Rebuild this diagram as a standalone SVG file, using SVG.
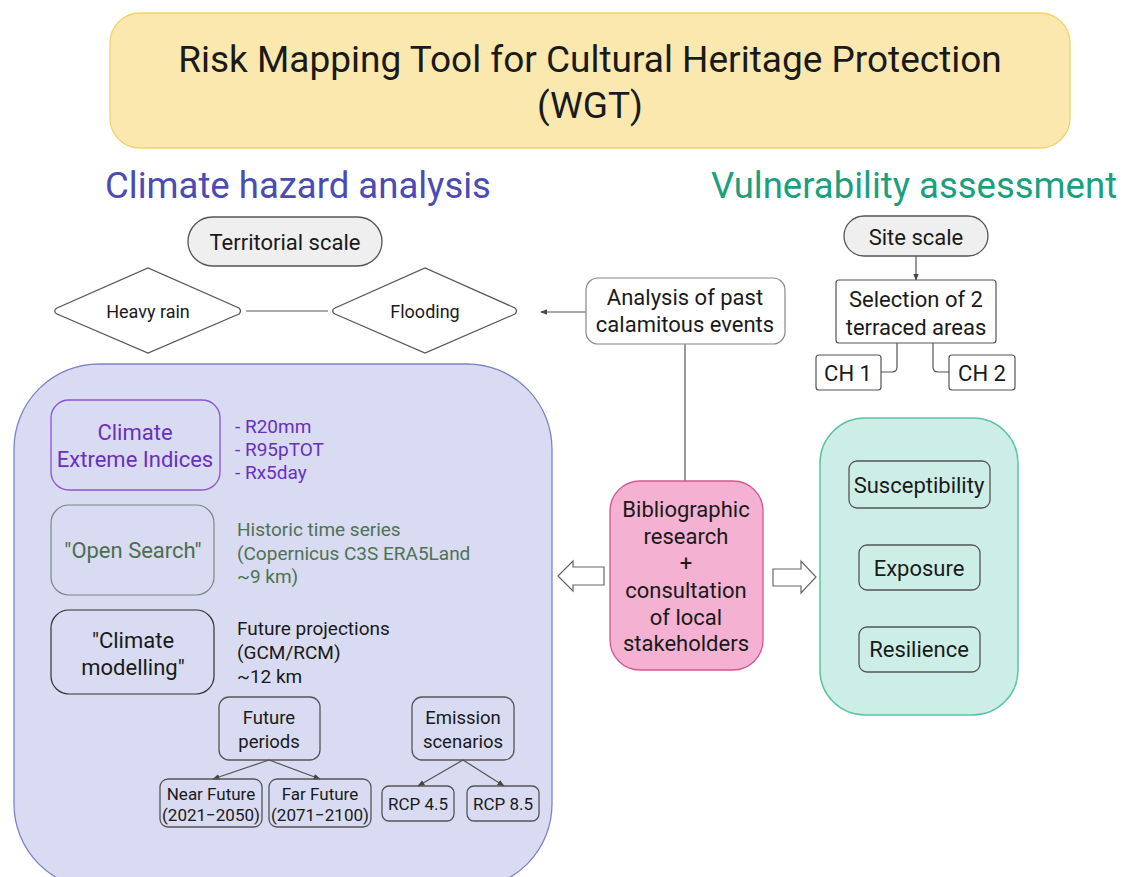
<svg xmlns="http://www.w3.org/2000/svg" width="1123" height="877" viewBox="0 0 1123 877">
<defs>
<marker id="ah" viewBox="0 0 10 10" refX="9" refY="5" markerWidth="6" markerHeight="6" orient="auto-start-reverse"><path d="M0,1 L10,5 L0,9 z" fill="#444"/></marker>
</defs>
<style>
text{font-family:Roboto,"Liberation Sans",sans-serif;fill:#1a1a1a;text-anchor:middle}
.l{text-anchor:start}
.bx{fill:none;stroke:#555;stroke-width:1.3}
.ln{fill:none;stroke:#555;stroke-width:1.2}
</style>
<rect x="0" y="0" width="1123" height="877" fill="#ffffff"/>

<g id="title">
<rect x="110" y="13" width="960" height="135" rx="30" fill="#fbe8ae" stroke="#f0d36a" stroke-width="1.3"/>
<text x="590" y="72" font-size="37">Risk Mapping Tool for Cultural Heritage Protection</text>
<text x="590" y="118" font-size="37">(WGT)</text>
</g>

<g id="heading-hazard"><text x="298" y="198" font-size="36.5" style="fill:#4a4bb3">Climate hazard analysis</text></g>
<g id="heading-vuln"><text x="914" y="198" font-size="36.5" style="fill:#1aa07e">Vulnerability assessment</text></g>

<g id="hazard-panel"><rect x="14" y="364" width="538" height="525" rx="85" fill="#d8dbf1" stroke="#7f82c8" stroke-width="1.3"/></g>
<g id="vuln-panel"><rect x="820" y="418" width="198" height="297" rx="45" fill="#cdeee6" stroke="#5cc2a8" stroke-width="1.5"/></g>

<g id="connectors">
<line class="ln" x1="246" y1="311" x2="328" y2="311"/>
<line class="ln" x1="586" y1="312" x2="541" y2="312" marker-end="url(#ah)"/>
<line class="ln" x1="685" y1="344" x2="685" y2="481"/>
<line class="ln" x1="916" y1="256" x2="916" y2="280" marker-end="url(#ah)"/>
<path class="ln" d="M897,343 V367 Q897,372 892,372 H881"/>
<path class="ln" d="M933,343 V367 Q933,372 938,372 H949"/>
<path d="M604,567 H573 V561 L558,576 L573,591 V585 H604 Z" fill="#ffffff" stroke="#666" stroke-width="1.2"/>
<path d="M773,569 H801 V561 L816,577 L801,593 V586 H773 Z" fill="#ffffff" stroke="#666" stroke-width="1.2"/>
<line class="ln" x1="269" y1="760" x2="213" y2="779" marker-end="url(#ah)"/>
<line class="ln" x1="269" y1="760" x2="320" y2="779" marker-end="url(#ah)"/>
<line class="ln" x1="463" y1="760" x2="418" y2="786" marker-end="url(#ah)"/>
<line class="ln" x1="463" y1="760" x2="504" y2="786" marker-end="url(#ah)"/>
</g>

<g id="territorial-scale">
<rect x="188" y="217" width="194" height="49" rx="24.5" fill="#efefef" stroke="#555" stroke-width="1.3"/>
<text x="285" y="250" font-size="22">Territorial scale</text>
</g>
<g id="heavy-rain">
<path d="M55,311 Q54,310 57,308 L148,268 L239,308 Q242,311 239,314 L148,353 L57,314 Q54,312 55,311 Z" fill="#fff" stroke="#555" stroke-width="1.2"/>
<text x="148" y="318" font-size="18">Heavy rain</text>
</g>
<g id="flooding">
<path d="M333,311 Q332,310 335,308 L425,268 L515,308 Q518,311 515,314 L425,353 L335,314 Q332,312 333,311 Z" fill="#fff" stroke="#555" stroke-width="1.2"/>
<text x="425" y="318" font-size="18">Flooding</text>
</g>
<g id="past-events">
<rect x="586" y="278" width="199" height="66" rx="12" fill="#fff" stroke="#888" stroke-width="1.2"/>
<text x="685" y="305" font-size="22">Analysis of past</text>
<text x="685" y="332" font-size="22">calamitous events</text>
</g>
<g id="site-scale">
<rect x="844" y="216" width="144" height="40" rx="20" fill="#efefef" stroke="#555" stroke-width="1.3"/>
<text x="916" y="245" font-size="22">Site scale</text>
</g>
<g id="selection">
<rect x="836" y="280" width="160" height="63" rx="3" fill="#fff" stroke="#555" stroke-width="1.2"/>
<text x="916" y="307" font-size="22">Selection of 2</text>
<text x="916" y="335" font-size="22">terraced areas</text>
</g>
<g id="ch1">
<rect x="816" y="355" width="65" height="35" rx="3" fill="#fff" stroke="#555" stroke-width="1.2"/>
<text x="848" y="381" font-size="22">CH 1</text>
</g>
<g id="ch2">
<rect x="949" y="355" width="66" height="35" rx="3" fill="#fff" stroke="#555" stroke-width="1.2"/>
<text x="982" y="381" font-size="22">CH 2</text>
</g>

<g id="bibliographic">
<rect x="610" y="481" width="153" height="189" rx="30" fill="#f4b1d1" stroke="#d9558f" stroke-width="1.3"/>
<text x="686" y="517" font-size="22">Bibliographic</text>
<text x="686" y="544" font-size="22">research</text>
<text x="686" y="571" font-size="22">+</text>
<text x="686" y="598" font-size="22">consultation</text>
<text x="686" y="625" font-size="22">of local</text>
<text x="686" y="651" font-size="22">stakeholders</text>
</g>

<g id="susceptibility">
<rect x="849" y="461" width="141" height="47" rx="8" class="bx"/>
<text x="919" y="493" font-size="22">Susceptibility</text>
</g>
<g id="exposure">
<rect x="859" y="545" width="121" height="45" rx="8" class="bx"/>
<text x="919" y="576" font-size="22">Exposure</text>
</g>
<g id="resilience">
<rect x="859" y="627" width="121" height="45" rx="8" class="bx"/>
<text x="919" y="657" font-size="22">Resilience</text>
</g>

<g id="extreme-indices">
<rect x="51" y="400" width="169" height="90" rx="18" fill="none" stroke="#8a55d4" stroke-width="1.3"/>
<text x="135" y="440" font-size="22" style="fill:#6a2fc0">Climate</text>
<text x="135" y="467" font-size="22" style="fill:#6a2fc0">Extreme Indices</text>
<text class="l" x="235" y="433" font-size="19" style="fill:#6a2fc0">- R20mm</text>
<text class="l" x="235" y="456" font-size="19" style="fill:#6a2fc0">- R95pTOT</text>
<text class="l" x="235" y="479" font-size="19" style="fill:#6a2fc0">- Rx5day</text>
</g>
<g id="open-search">
<rect x="51" y="505" width="163" height="90" rx="18" fill="none" stroke="#7a8a80" stroke-width="1.2"/>
<text x="133" y="558" font-size="22" style="fill:#4b6e50">"Open Search"</text>
<text class="l" x="237" y="536" font-size="19" style="fill:#4e7252">Historic time series</text>
<text class="l" x="237" y="560" font-size="19" style="fill:#4e7252">(Copernicus C3S ERA5Land</text>
<text class="l" x="237" y="583" font-size="19" style="fill:#4e7252">~9 km)</text>
</g>
<g id="climate-modelling">
<rect x="51" y="610" width="163" height="84" rx="18" fill="none" stroke="#333" stroke-width="1.2"/>
<text x="133" y="648" font-size="22">"Climate</text>
<text x="133" y="675" font-size="22">modelling"</text>
<text class="l" x="237" y="635" font-size="19">Future projections</text>
<text class="l" x="237" y="659" font-size="19">(GCM/RCM)</text>
<text class="l" x="237" y="683" font-size="19">~12 km</text>
</g>
<g id="future-periods">
<rect x="219" y="697" width="101" height="63" rx="10" class="bx"/>
<text x="269" y="724" font-size="18.5">Future</text>
<text x="269" y="748" font-size="18.5">periods</text>
</g>
<g id="emission-scenarios">
<rect x="412" y="697" width="102" height="63" rx="10" class="bx"/>
<text x="463" y="724" font-size="18.5">Emission</text>
<text x="463" y="748" font-size="18.5">scenarios</text>
</g>
<g id="near-future">
<rect x="160" y="779" width="102" height="48" rx="8" class="bx"/>
<text x="211" y="800" font-size="17">Near Future</text>
<text x="211" y="821" font-size="17">(2021−2050)</text>
</g>
<g id="far-future">
<rect x="269" y="779" width="102" height="48" rx="8" class="bx"/>
<text x="320" y="800" font-size="17">Far Future</text>
<text x="320" y="821" font-size="17">(2071−2100)</text>
</g>
<g id="rcp45">
<rect x="382" y="786" width="72" height="35" rx="7" class="bx"/>
<text x="418" y="810" font-size="17">RCP 4.5</text>
</g>
<g id="rcp85">
<rect x="467" y="786" width="72" height="35" rx="7" class="bx"/>
<text x="503" y="810" font-size="17">RCP 8.5</text>
</g>
</svg>
